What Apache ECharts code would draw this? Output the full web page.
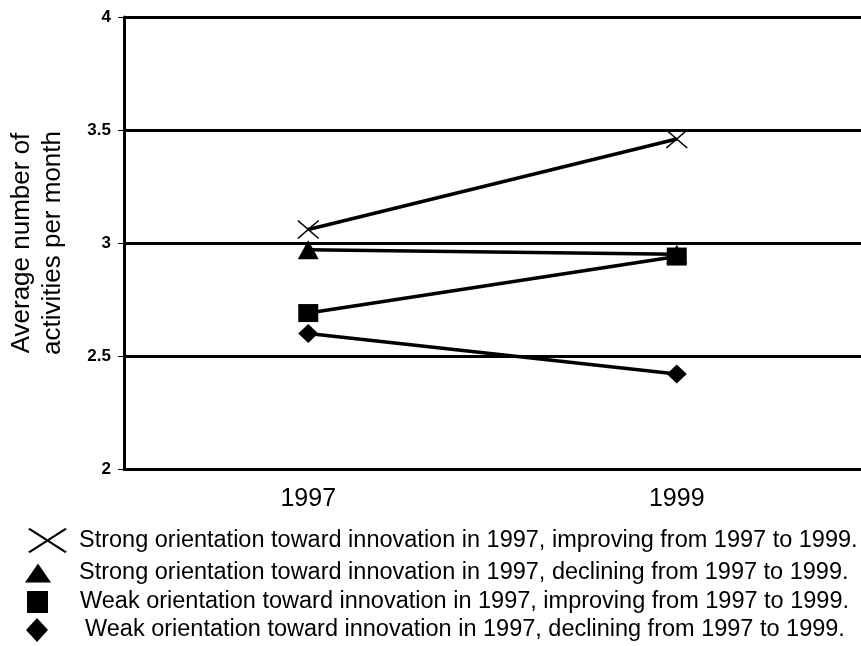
<!DOCTYPE html>
<html lang="en">
<head>
<meta charset="utf-8">
<script src="https://cdn.jsdelivr.net/npm/echarts@6/dist/echarts.min.js"></script>
<style>
    html, body { margin: 0; padding: 0; background: #fff; }
    #main { width: 861px; height: 646px; }
</style>
</head>
<body>
<div id="main"></div>
<script>
    // values
    var years = ['1997', '1999'];
    var strongImproving = [3.06, 3.46];
    var strongDeclining = [2.97, 2.95];
    var weakImproving = [2.69, 2.94];
    var weakDeclining = [2.60, 2.42];
    var yTicks = { min: 2, max: 4, interval: 0.5 };

    var names = [
        'Strong orientation toward innovation in 1997, improving from 1997 to 1999.',
        'Strong orientation toward innovation in 1997, declining from 1997 to 1999.',
        'Weak orientation toward innovation in 1997, improving from 1997 to 1999.',
        'Weak orientation toward innovation in 1997, declining from 1997 to 1999.'
    ];

    // thin X cross drawn as a filled outline
    var crossPath = 'path://M0,5 L5,0 L50,45 L95,0 L100,5 L55,50 L100,95 L95,100 L50,55 L5,100 L0,95 L45,50 Z';

    var font = 'Liberation Sans, Arial, sans-serif';

    function makeLegend(idx, icon, left, top, w, h, pad) {
        return {
            data: [{ name: names[idx], icon: icon }],
            left: left,
            top: top,
            itemWidth: w,
            itemHeight: h,
            itemStyle: { color: '#000', borderWidth: 0 },
            lineStyle: { opacity: 0 },
            symbolKeepAspect: false,
            selectedMode: false,
            textStyle: { color: '#000', fontSize: 23.5, fontFamily: font, padding: [0, 0, 0, pad] }
        };
    }

    function makeSeries(idx, vals, symbol, size) {
        return {
            name: names[idx],
            type: 'line',
            data: vals,
            symbol: symbol,
            symbolSize: size,
            symbolKeepAspect: false,
            showAllSymbol: true,
            lineStyle: { color: '#000', width: 3.5 },
            itemStyle: { color: '#000', borderWidth: 0 },
            z: 3 + idx
        };
    }

    var option = {
        animation: false,
        backgroundColor: '#fff',
        grid: { left: 124, right: 0, top: 17, bottom: 177, outerBoundsMode: 'none' },
        legend: [
            makeLegend(0, crossPath, 23, 523, 39, 25, 7),
            makeLegend(1, 'triangle', 20, 556, 26, 19, 23),
            makeLegend(2, 'rect', 22, 585, 21, 22, 27),
            makeLegend(3, 'diamond', 21, 613, 22, 24, 32)
        ],
        xAxis: {
            type: 'category',
            data: years,
            boundaryGap: true,
            axisLine: { lineStyle: { color: '#000', width: 3 } },
            axisTick: { show: false },
            axisLabel: { color: '#000', fontSize: 25, fontFamily: font, margin: 18 },
            splitLine: { show: false }
        },
        yAxis: {
            type: 'value',
            min: yTicks.min,
            max: yTicks.max,
            interval: yTicks.interval,
            name: 'Average number of\nactivities per month',
            nameLocation: 'middle',
            nameGap: 56,
            nameTextStyle: { color: '#000', fontSize: 26, fontFamily: font, lineHeight: 31 },
            axisLine: { show: true, lineStyle: { color: '#000', width: 3 } },
            axisTick: { show: true, length: 6, lineStyle: { color: '#000', width: 1 } },
            axisLabel: { color: '#000', fontSize: 17, fontWeight: 'bold', fontFamily: font, margin: 13 },
            splitLine: { show: true, lineStyle: { color: '#000', width: 3 } }
        },
        series: [
            makeSeries(0, strongImproving, crossPath, [22, 19]),
            makeSeries(1, strongDeclining, 'triangle', [21, 19]),
            makeSeries(2, weakImproving, 'rect', [20, 18]),
            makeSeries(3, weakDeclining, 'diamond', [20, 19])
        ]
    };

    var myChart = echarts.init(document.getElementById('main'));
    myChart.setOption(option);
</script>
</body>
</html>
